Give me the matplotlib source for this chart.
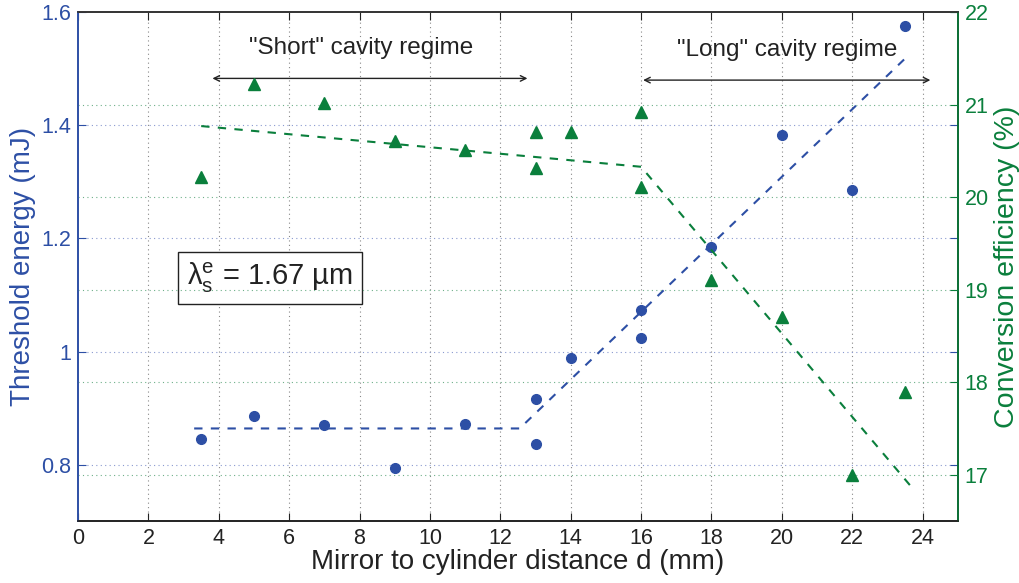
import numpy as np
import matplotlib
matplotlib.use("Agg")
from matplotlib import pyplot as plt

plt.rcParams['font.family'] = ['Liberation Sans', 'DejaVu Sans']

# threshold energy (left axis, mJ)
d_thr = [3.5, 5, 7, 9, 11, 13, 13, 14, 16, 16, 18, 20, 22, 23.5]
thr = [0.846, 0.886, 0.870, 0.794, 0.872, 0.916, 0.837, 0.989, 1.073, 1.024, 1.185, 1.383, 1.286, 1.575]

# conversion efficiency (right axis, %)
d_eff = [3.5, 5, 7, 9, 11, 13, 13, 14, 16, 16, 18, 20, 22, 23.5]
eff = [20.22, 21.22, 21.02, 20.61, 20.51, 20.71, 20.32, 20.71, 20.92, 20.11, 19.11, 18.71, 17.0, 17.9]

# dashed trend lines
thr_fit_x = [3.3, 12.55, 23.5]
thr_fit_y = [0.864, 0.864, 1.518]
eff_fit_x = [3.5, 16.0, 23.75]
eff_fit_y = [20.77, 20.33, 16.84]

blue = '#2d4fa5'
green = '#0a7f3c'

fig = plt.figure(figsize=(10.2, 5.83), dpi=100)
ax = fig.add_axes([0.0765, 0.106, 0.8625, 0.873])
ax2 = ax.twinx()

# grids
for xv in range(2, 25, 2):
    ax.axvline(xv, color='#888888', ls=(0, (1, 3)), lw=0.8, zorder=0)
for yv in [0.8, 1.0, 1.2, 1.4]:
    ax.axhline(yv, color='#8a9ad0', ls=(0, (1, 3)), lw=0.8, zorder=0)
for yv in [17, 18, 19, 20, 21]:
    ax2.axhline(yv, color='#6fb08a', ls=(0, (1, 3)), lw=0.8, zorder=0)

ax.plot(d_thr, thr, 'o', color=blue, ms=7, zorder=3)
ax.plot(thr_fit_x, thr_fit_y, '--', color=blue, lw=1.5, dashes=(4, 4))
ax2.plot(d_eff, eff, '^', color=green, ms=8, zorder=3)
ax2.plot(eff_fit_x, eff_fit_y, '--', color=green, lw=1.5, dashes=(4, 4))

ax.set_xlim(0, 25)
ax.set_ylim(0.7, 1.6)
ax2.set_ylim(16.5, 22)
ax.set_xticks(range(0, 25, 2))
ax.set_yticks([0.8, 1.0, 1.2, 1.4, 1.6])
ax.set_yticklabels(['0.8', '1', '1.2', '1.4', '1.6'])
ax2.set_yticks([17, 18, 19, 20, 21, 22])

ax.tick_params(axis='x', direction='in', length=6, labelsize=15.5, top=True, colors='#222222', pad=5)
ax.tick_params(axis='y', direction='in', length=6, labelsize=15.5, colors=blue, right=True, pad=5)
ax2.tick_params(axis='y', direction='in', length=6, labelsize=15.5, colors=green, pad=5)

ax.spines['left'].set_color(blue)
ax2.spines['left'].set_color(blue)
ax2.spines['right'].set_color(green)
for a in (ax, ax2):
    a.spines['top'].set_color('#333333')
    a.spines['bottom'].set_color('#222222')
    for s in a.spines.values():
        s.set_linewidth(1.2)

ax.set_xlabel('Mirror to cylinder distance d (mm)', fontsize=20, color='#222222', labelpad=0)
ax.set_ylabel('Threshold energy (mJ)', fontsize=20, color=blue, labelpad=4)
ax2.set_ylabel('Conversion efficiency (%)', fontsize=20.5, color=green, labelpad=4)

# regime annotations
ax.annotate('', xy=(3.74, 1.483), xytext=(12.85, 1.483),
            arrowprops=dict(arrowstyle='<->', color='#222222', lw=1))
ax.annotate('', xy=(15.98, 1.48), xytext=(24.3, 1.48),
            arrowprops=dict(arrowstyle='<->', color='#222222', lw=1))
ax.text(8.05, 1.536, '"Short" cavity regime', fontsize=17.5, ha='center', va='center', color='#222222')
ax.text(20.15, 1.533, '"Long" cavity regime', fontsize=17.5, ha='center', va='center', color='#222222')

ax.text(5.45, 1.13, r'$\mathregular{\lambda_s^e}$ = 1.67 µm', fontsize=21, ha='center', va='center',
        color='#222222',
        bbox=dict(boxstyle='square,pad=0.3', fc='white', ec='#222222', lw=1))

fig.savefig('out.png', dpi=100)
